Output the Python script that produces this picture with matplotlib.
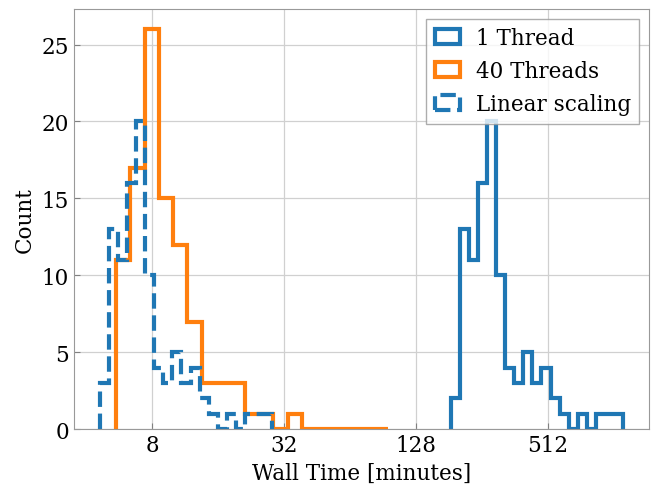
import numpy as np
import matplotlib
matplotlib.use('Agg')
import matplotlib.pyplot as plt

# histogram counts (19 log-spaced bins each)
one_thread_counts = [2, 13, 11, 16, 20, 10, 4, 3, 5, 3, 4, 2, 1, 0, 1, 0, 1, 1, 1]
one_thread_range = (184.3, 1125.0)      # minutes, first / last bin edge
forty_thread_counts = [11, 17, 26, 15, 12, 7, 3, 3, 3, 1, 1, 0, 1, 0, 0, 0, 0, 0, 0]
forty_thread_range = (5.45, 94.8)
linear_counts = [3, 13, 11, 16, 20, 10, 4, 3, 5, 3, 4, 2, 1, 0, 1, 0, 1, 1, 1]
n_threads = 40

xticks = [8, 32, 128, 512]
yticks = [0, 5, 10, 15, 20, 25]


def log_bins(lo, hi, n):
    return np.logspace(np.log2(lo), np.log2(hi), n + 1, base=2)


plt.rcParams['font.family'] = 'DejaVu Serif'
plt.rcParams['font.size'] = 15.5

fig, ax = plt.subplots(figsize=(6.59, 4.85), dpi=100)
fig.subplots_adjust(left=0.112, right=0.985, top=0.979, bottom=0.113)

bins_1 = log_bins(*one_thread_range, len(one_thread_counts))
bins_40 = log_bins(*forty_thread_range, len(forty_thread_counts))
bins_lin = bins_1 / n_threads

ax.hist(bins_1[:-1], bins=bins_1, weights=one_thread_counts, histtype='step',
        lw=3, color='#1f77b4', label='1 Thread')
ax.hist(bins_40[:-1], bins=bins_40, weights=forty_thread_counts, histtype='step',
        lw=3, color='#ff7f0e', label='40 Threads')
ax.hist(bins_lin[:-1], bins=bins_lin, weights=linear_counts, histtype='step',
        lw=3, ls='--', color='#1f77b4', label='Linear scaling')

ax.set_xscale('log', base=2)
ax.set_xticks(xticks)
ax.set_xticklabels([str(t) for t in xticks])
ax.xaxis.set_minor_locator(matplotlib.ticker.NullLocator())
ax.set_yticks(yticks)

ax.grid(True, color='#d0d0d0', lw=0.9)
ax.set_axisbelow(True)
ax.tick_params(direction='in', color='0.5', length=4)
for sp in ax.spines.values():
    sp.set_color('0.6')

ax.set_xlabel('Wall Time [minutes]')
ax.set_ylabel('Count')
ax.legend(loc='upper right', fancybox=False, edgecolor='0.6',
          handlelength=1.2, handletextpad=0.7, borderaxespad=0.45)

fig.savefig('out.png', dpi=100)
